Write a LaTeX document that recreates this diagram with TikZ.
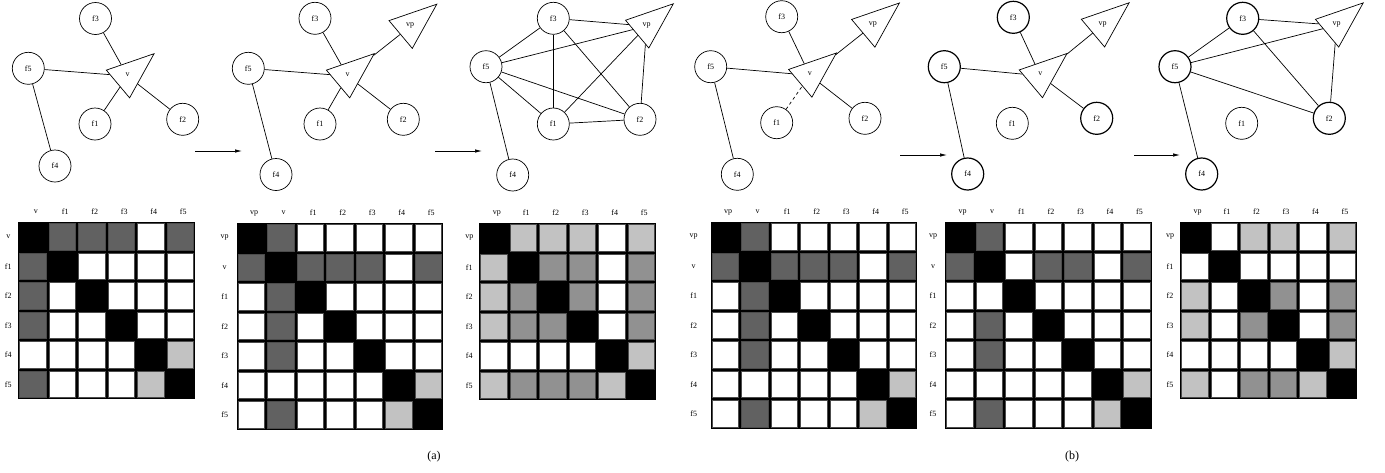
\documentclass[tikz,border=0pt]{standalone}
\usepackage{fontspec}
\setmainfont{Liberation Serif}
\usetikzlibrary{shapes.geometric,arrows.meta}

\definecolor{cellB}{gray}{0}
\definecolor{cellD}{gray}{0.38}
\definecolor{cellM}{gray}{0.57}
\definecolor{cellL}{gray}{0.76}
\definecolor{cellW}{gray}{1}
\definecolor{frameB}{gray}{0}
\definecolor{frameD}{gray}{0.3}
\definecolor{frameM}{gray}{0.3}
\definecolor{frameL}{gray}{0.3}
\definecolor{frameW}{gray}{0.3}

% zero-size text for the triangles
\newcommand{\tlab}[1]{\smash{\makebox[0pt]{#1}}}

% adjacency grid: name, left, top, size, labels, rows, row label offset
\newcommand{\adjgrid}[7]{%
  \fill[black] (#2,#3) rectangle ++(#4*29.5,#4*29.5);
  \foreach \lab [count=\k from 0] in {#5} {
    \node[gridlabel] (#1c\k) at (#2+\k*29.5+17.5,#3-10) {\lab};
    \node[gridlabel] (#1r\k) at (#2-#7,#3+\k*29.5+14.75) {\lab};
  }
  \foreach \row [count=\i from 0] in {#6} {
    \foreach \c [count=\j from 0] in \row {
      \filldraw[fill=cell\c, draw=frame\c, line width=1pt]
        (#2+\j*29.5+1.5,#3+\i*29.5+1.5) rectangle ++(26.5,26.5);
    }
  }
}

\begin{document}
\begin{tikzpicture}[x=1pt, y=-1pt, line width=0.7pt]
    \tikzstyle{fnode} = [circle, draw, minimum size=32pt, inner sep=0pt, font=\fontsize{8}{9}\selectfont]
    \tikzstyle{bold} = [line width=1.2pt]
    \tikzstyle{vnode} = [isosceles triangle, isosceles triangle apex angle=42, shape border uses incircle, shape border rotate=40, draw, inner sep=8.8pt, font=\fontsize{8}{9}\selectfont]
    \tikzstyle{gridlabel} = [inner sep=0pt, font=\fontsize{8}{9}\selectfont]
    \tikzstyle{step arrow} = [-{Latex[length=7pt,width=3.5pt]}]
    \tikzstyle{caption} = [font=\fontsize{12}{14}\selectfont]

    \useasboundingbox (0,0) rectangle (1385,472);

    % (a) first graph
    \node [fnode] (p1f3) at (95.5,18.5) {f3};
    \node [fnode] (p1f5) at (28.3,68.3) {f5};
    \node [fnode] (p1f1) at (95,124) {f1};
    \node [fnode] (p1f2) at (182.7,119.3) {f2};
    \node [fnode] (p1f4) at (55,166) {f4};
    \node [vnode] (p1v) at (127.5,76) {\tlab{v}};
    \foreach \a/\b in {f3/v, f5/v, f1/v, f2/v, f5/f4}
        \draw (p1\a) -- (p1\b);

    % (a) second graph
    \node [fnode] (p2f3) at (315,18.3) {f3};
    \node [fnode] (p2f5) at (248.3,68.3) {f5};
    \node [fnode] (p2f1) at (320,124) {f1};
    \node [fnode] (p2f2) at (403.3,119.3) {f2};
    \node [fnode] (p2f4) at (276,174.5) {f4};
    \node [vnode] (p2v) at (347.6,76) {\tlab{v}};
    \node [vnode] (p2vp) at (410.2,26.5) {\tlab{vp}};
    \foreach \a/\b in {f3/v, f5/v, f1/v, f2/v, v/vp, f5/f4}
        \draw (p2\a) -- (p2\b);

    % (a) third graph
    \node [fnode] (p3f3) at (553.3,18.3) {f3};
    \node [fnode] (p3f5) at (486,66.7) {f5};
    \node [fnode] (p3f1) at (553.3,124) {f1};
    \node [fnode] (p3f2) at (640,119.3) {f2};
    \node [fnode] (p3f4) at (512.7,175) {f4};
    \node [vnode] (p3vp) at (646.7,26.1) {\tlab{vp}};
    \foreach \a/\b in {f3/vp, f3/f5, f3/f1, f3/f2, f5/vp, f5/f1, f5/f2, f5/f4, f1/vp, f1/f2, f2/vp}
        \draw (p3\a) -- (p3\b);

    % (b) first graph
    \node [fnode] (p4f3) at (781.7,16.7) {f3};
    \node [fnode] (p4f5) at (710.7,66.7) {f5};
    \node [fnode] (p4f1) at (776.7,122.7) {f1};
    \node [fnode] (p4f2) at (865,118.3) {f2};
    \node [fnode] (p4f4) at (737.3,174.3) {f4};
    \node [vnode] (p4v) at (809.8,75.3) {\tlab{v}};
    \node [vnode] (p4vp) at (872.8,25.3) {\tlab{vp}};
    \foreach \a/\b in {f3/v, f5/v, f2/v, v/vp, f5/f4}
        \draw (p4\a) -- (p4\b);
    \draw [dashed] (p4f1) -- (p4v);

    % (b) second graph
    \node [fnode, bold] (p5f3) at (1013.3,17.3) {f3};
    \node [fnode, bold] (p5f5) at (944.3,66.7) {f5};
    \node [fnode] (p5f1) at (1012.3,123.3) {f1};
    \node [fnode, bold] (p5f2) at (1096.7,118.3) {f2};
    \node [fnode, bold] (p5f4) at (967.7,174) {f4};
    \node [vnode] (p5v) at (1040.4,75.8) {\tlab{v}};
    \node [vnode] (p5vp) at (1102.5,25.1) {\tlab{vp}};
    \foreach \a/\b in {f3/v, f5/v, f2/v, v/vp, f5/f4}
        \draw (p5\a) -- (p5\b);

    % (b) third graph
    \node [fnode, bold] (p6f3) at (1242.7,18.3) {f3};
    \node [fnode, bold] (p6f5) at (1175,66.7) {f5};
    \node [fnode] (p6f1) at (1241.7,123.3) {f1};
    \node [fnode, bold] (p6f2) at (1329.3,118.3) {f2};
    \node [fnode, bold] (p6f4) at (1201.7,174) {f4};
    \node [vnode] (p6vp) at (1336.6,25.2) {\tlab{vp}};
    \foreach \a/\b in {f3/vp, f3/f5, f3/f2, f5/vp, f5/f2, f5/f4, f2/vp}
        \draw (p6\a) -- (p6\b);

    % arrows between the steps
    \coordinate (s1) at (195,151);  \coordinate (e1) at (242,151);
    \coordinate (s2) at (435,151);  \coordinate (e2) at (482,151);
    \coordinate (s3) at (900,155);  \coordinate (e3) at (947,155);
    \coordinate (s4) at (1134,155); \coordinate (e4) at (1180,155);
    \foreach \k in {1,...,4}
        \draw [step arrow] (s\k) -- (e\k);

    % matrices
    \adjgrid{m1}{18.3}{222}{6}{v,f1,f2,f3,f4,f5}
      {{B,D,D,D,W,D},{D,B,W,W,W,W},{D,W,B,W,W,W},{D,W,W,B,W,W},{W,W,W,W,B,L},{D,W,W,W,L,B}}{10}
    \adjgrid{m2}{236.7}{223}{7}{vp,v,f1,f2,f3,f4,f5}
      {{B,D,W,W,W,W,W},{D,B,D,D,D,W,D},{W,D,B,W,W,W,W},{W,D,W,B,W,W,W},{W,D,W,W,B,W,W},{W,W,W,W,W,B,L},{W,D,W,W,W,L,B}}{12}
    \adjgrid{m3}{479.3}{223}{6}{vp,f1,f2,f3,f4,f5}
      {{B,L,L,L,W,L},{L,B,M,M,W,M},{L,M,B,M,W,M},{L,M,M,B,W,M},{W,W,W,W,B,L},{L,M,M,M,L,B}}{10}
    \adjgrid{m4}{710.7}{222}{7}{vp,v,f1,f2,f3,f4,f5}
      {{B,D,W,W,W,W,W},{D,B,D,D,D,W,D},{W,D,B,W,W,W,W},{W,D,W,B,W,W,W},{W,D,W,W,B,W,W},{W,W,W,W,W,B,L},{W,D,W,W,W,L,B}}{17}
    \adjgrid{m5}{945}{222}{7}{vp,v,f1,f2,f3,f4,f5}
      {{B,D,W,W,W,W,W},{D,B,W,D,D,W,D},{W,W,B,W,W,W,W},{W,D,W,B,W,W,W},{W,D,W,W,B,W,W},{W,W,W,W,W,B,L},{W,D,W,W,W,L,B}}{12}
    \adjgrid{m6}{1180}{222}{6}{vp,f1,f2,f3,f4,f5}
      {{B,W,L,L,W,L},{W,B,W,W,W,W},{L,W,B,M,W,M},{L,W,M,B,W,M},{W,W,W,W,B,L},{L,W,M,M,L,B}}{10}

    \node [caption] (cap-a) at (434,457) {(a)};
    \node [caption] (cap-b) at (1072,457) {(b)};
\end{tikzpicture}
\end{document}
